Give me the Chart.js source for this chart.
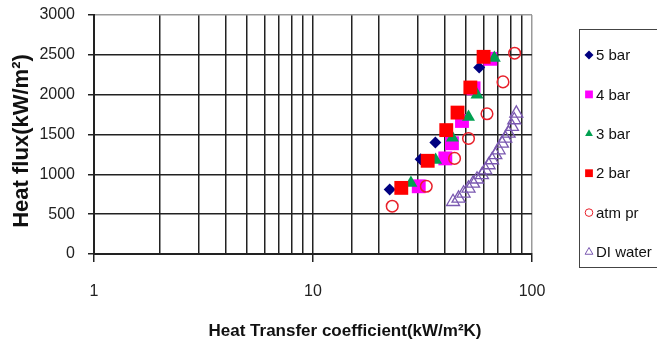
<!DOCTYPE html>
<html>
<head>
<meta charset="utf-8">
<script src="https://cdn.jsdelivr.net/npm/chart.js"></script>
<style>
  html, body { margin: 0; padding: 0; background: #fff; }
  #wrap { position: relative; width: 657px; height: 345px; }
</style>
</head>
<body>
<div id="wrap"><canvas id="chart"></canvas></div>
<script>
// heat transfer coefficient (kW/m2K) and heat flux (kW/m2) per series
const bar5H = [22.4, 31.0, 36.2, 57.4];
const bar5Q = [810, 1190, 1400, 2340];
const bar4H = [30.4, 40.2, 43.1, 47.9, 54.1, 64.5];
const bar4Q = [850, 1200, 1390, 1670, 2080, 2450];
const bar3H = [28.0, 36.3, 43.3, 51.3, 56.1, 67.3];
const bar3Q = [890, 1180, 1460, 1720, 2000, 2460];
const bar2H = [25.3, 33.4, 40.6, 45.7, 52.3, 60.1];
const bar2Q = [830, 1170, 1555, 1775, 2090, 2475];
const atmH = [23.0, 32.9, 44.3, 51.3, 62.3, 73.7, 83.3];
const atmQ = [600, 850, 1200, 1450, 1760, 2160, 2520];
const diH = [43.6, 46.2, 48.7, 51.3, 53.8, 56.1, 59.1, 61.2, 63.4, 65.7, 68.0, 70.4, 72.9, 75.5, 78.2, 81.0, 83.0, 84.8];
const diQ = [656, 699, 762, 825, 887, 938, 992, 1054, 1117, 1180, 1243, 1305, 1389, 1452, 1515, 1598, 1682, 1766];

const seriesLabels = ['5 bar', '4 bar', '3 bar', '2 bar', 'atm pr', 'DI water'];
const xTickLabels = ['1', '10', '100'];
const xTitle = 'Heat Transfer coefficient(kW/m²K)';
const yTitle = 'Heat flux(kW/m²)';

const FONT = "Arial, 'Liberation Sans', sans-serif";

const pts = (xs, ys) => xs.map((x, i) => ({ x: x, y: ys[i] }));
const isDecade = v => Math.abs(Math.log10(v) - Math.round(Math.log10(v))) < 1e-6;

const datasets = [
  { label: seriesLabels[0], data: pts(bar5H, bar5Q), pointStyle: 'rectRot', pointRadius: 6,
    backgroundColor: '#000080', borderColor: '#000080', borderWidth: 0, order: 6 },
  { label: seriesLabels[1], data: pts(bar4H, bar4Q), pointStyle: 'rect', pointRadius: 9.8,
    backgroundColor: '#ff00ff', borderColor: '#ff00ff', borderWidth: 0, order: 5 },
  { label: seriesLabels[2], data: pts(bar3H, bar3Q), pointStyle: 'triangle', pointRadius: 7.5,
    backgroundColor: '#00a050', borderColor: '#00a050', borderWidth: 0, order: 4 },
  { label: seriesLabels[3], data: pts(bar2H, bar2Q), pointStyle: 'rect', pointRadius: 9.8,
    backgroundColor: '#ff0000', borderColor: '#ff0000', borderWidth: 0, order: 3 },
  { label: seriesLabels[4], data: pts(atmH, atmQ), pointStyle: 'circle', pointRadius: 5.8,
    backgroundColor: 'rgba(0,0,0,0)', borderColor: '#e8202a', borderWidth: 1.5, order: 2 },
  { label: seriesLabels[5], data: pts(diH, diQ), pointStyle: 'triangle', pointRadius: 7.5,
    backgroundColor: 'rgba(0,0,0,0)', borderColor: '#7a58b0', borderWidth: 1.3, order: 1 }
];

// axis titles (off-centre like the original) and framed legend box
const extras = {
  id: 'extras',
  afterDraw(chart) {
    const ctx = chart.ctx;
    ctx.save();
    ctx.fillStyle = '#111';
    ctx.textAlign = 'center';
    ctx.textBaseline = 'middle';
    ctx.font = 'bold 17px ' + FONT;
    ctx.fillText(xTitle, 345, 331);
    ctx.save();
    ctx.translate(21.5, 141);
    ctx.rotate(-Math.PI / 2);
    ctx.font = 'bold 22px ' + FONT;
    ctx.fillText(yTitle, 0, 0);
    ctx.restore();

    ctx.strokeStyle = '#444';
    ctx.lineWidth = 1;
    ctx.strokeRect(579.5, 29.5, 100, 238);
    ctx.font = '15px ' + FONT;
    ctx.textAlign = 'left';
    chart.data.datasets.forEach((ds, i) => {
      const y = 55 + i * 39.4;
      const open = ds.borderWidth > 0;
      ctx.save();
      ctx.fillStyle = ds.backgroundColor;
      ctx.strokeStyle = ds.borderColor;
      const r = ds.pointStyle === 'rect' ? 5.5 : (ds.pointStyle === 'circle' ? 3.8 : 4.5);
      Chart.helpers.drawPoint(ctx, {
        pointStyle: ds.pointStyle, rotation: 0, radius: r,
        borderWidth: open ? 1.2 : 0
      }, 589, y);
      ctx.restore();
      ctx.fillText(ds.label, 596, y + 1);
    });
    ctx.restore();
  }
};

new Chart(document.getElementById('chart'), {
  type: 'scatter',
  data: { datasets: datasets },
  plugins: [extras],
  options: {
    responsive: true,
    maintainAspectRatio: false,
    animation: false,
    layout: { padding: { top: 15, right: 125, left: 0, bottom: 0 } },
    plugins: { legend: { display: false }, tooltip: { enabled: false } },
    scales: {
      x: {
        type: 'logarithmic',
        min: 1,
        max: 100,
        afterFit: s => { s.height = 91; s.paddingLeft = 0; s.paddingRight = 0; },
        border: { display: true, color: '#222', width: 2 },
        grid: {
          color: c => (c.tick && c.tick.value === 100 ? '#9a9a9a' : '#222'),
          lineWidth: 1.5,
          tickLength: 8,
          tickColor: c => (c.tick && isDecade(c.tick.value) ? '#222' : 'rgba(0,0,0,0)')
        },
        ticks: {
          autoSkip: false,
          maxRotation: 0,
          padding: 20,
          color: '#222',
          font: { family: FONT, size: 16 },
          callback: v => (isDecade(v) ? xTickLabels[Math.round(Math.log10(v))] : '')
        }
      },
      y: {
        min: 0,
        max: 3000,
        afterFit: s => { s.width = 94; s.paddingTop = 0; s.paddingBottom = 0; },
        border: { display: true, color: '#222', width: 2 },
        grid: {
          color: c => (c.tick && c.tick.value === 3000 ? '#9a9a9a' : '#222'),
          lineWidth: 1.5,
          tickLength: 6,
          tickColor: '#222'
        },
        ticks: {
          stepSize: 500,
          padding: 13,
          color: '#222',
          font: { family: FONT, size: 16 },
          callback: v => String(v)
        }
      }
    }
  }
});
</script>
</body>
</html>
